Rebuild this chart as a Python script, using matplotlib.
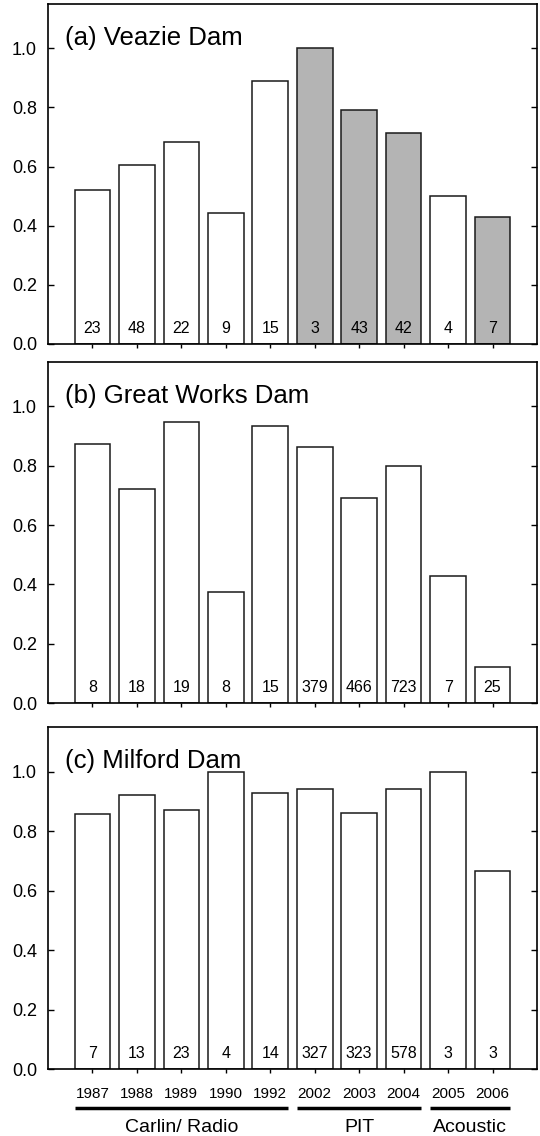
import matplotlib
matplotlib.use("Agg")
import matplotlib.pyplot as plt
import numpy as np

plt.rcParams['font.family'] = ['Liberation Sans', 'DejaVu Sans']

years = ['1987', '1988', '1989', '1990', '1992', '2002', '2003', '2004', '2005', '2006']

# passage proportion per year, with number of tagged fish written in each bar
veazie = [0.522, 0.604, 0.682, 0.444, 0.89, 1.0, 0.791, 0.714, 0.5, 0.429]
veazie_n = [23, 48, 22, 9, 15, 3, 43, 42, 4, 7]
veazie_shaded = [False, False, False, False, False, True, True, True, False, True]

great_works = [0.875, 0.722, 0.947, 0.375, 0.933, 0.864, 0.693, 0.80, 0.429, 0.12]
great_works_n = [8, 18, 19, 8, 15, 379, 466, 723, 7, 25]

milford = [0.857, 0.923, 0.870, 1.0, 0.929, 0.941, 0.862, 0.942, 1.0, 0.667]
milford_n = [7, 13, 23, 4, 14, 327, 323, 578, 3, 3]

panels = [
    ("(a) Veazie Dam", veazie, veazie_n, veazie_shaded),
    ("(b) Great Works Dam", great_works, great_works_n, [False] * 10),
    ("(c) Milford Dam", milford, milford_n, [False] * 10),
]

# telemetry method groups along the bottom: (label, first bar, last bar)
groups = [("Carlin/ Radio", 0, 4), ("PIT", 5, 7), ("Acoustic", 8, 9)]

W, H = 540, 1136
fig = plt.figure(figsize=(W / 100, H / 100), dpi=100)

# axes boxes in pixels: (top, bottom)
boxes = [(4, 344), (362, 703), (727, 1069)]
left, right = 48, 537

x = np.arange(len(years))
bw = 0.8
axes = []
for (title, vals, ns, shaded), (top, bot) in zip(panels, boxes):
    ax = fig.add_axes([left / W, (H - bot) / H, (right - left) / W, (bot - top) / H])
    axes.append(ax)
    colors = ['#b4b4b4' if s else 'white' for s in shaded]
    ax.bar(x, vals, width=bw, color=colors, edgecolor='#1a1a1a', linewidth=1.1, zorder=2)
    for xi, n in zip(x, ns):
        ax.text(xi, 0.036, str(n), ha='center', va='baseline', fontsize=11.5, zorder=3)
    ax.set_xlim(-1, 10)
    ax.set_ylim(0, 1.15)
    ax.set_yticks([0, 0.2, 0.4, 0.6, 0.8, 1.0])
    ax.set_yticklabels(['0.0', '0.2', '0.4', '0.6', '0.8', '1.0'], fontsize=13)
    ax.set_xticks(x)
    ax.tick_params(axis='y', direction='in', length=4, width=1, pad=8,
                   left=True, right=True)
    ax.tick_params(axis='x', direction='out', length=3, width=1, pad=10)
    for sp in ax.spines.values():
        sp.set_linewidth(1.2)
    ax.text(0.035, 0.879, title, transform=ax.transAxes, fontsize=18.5,
            ha='left', va='baseline')
    ax.set_xticklabels([])

ax = axes[-1]
ax.set_xticklabels(years, fontsize=11)

tr = ax.get_xaxis_transform()
for label, i0, i1 in groups:
    ax.plot([i0 - bw / 2, i1 + bw / 2], [-0.114, -0.114], color='black', lw=2.5,
            transform=tr, clip_on=False, solid_capstyle='butt')
    ax.text((i0 + i1) / 2, -0.147, label, transform=tr, ha='center', va='top',
            fontsize=14)

fig.savefig("out.png", dpi=100)
